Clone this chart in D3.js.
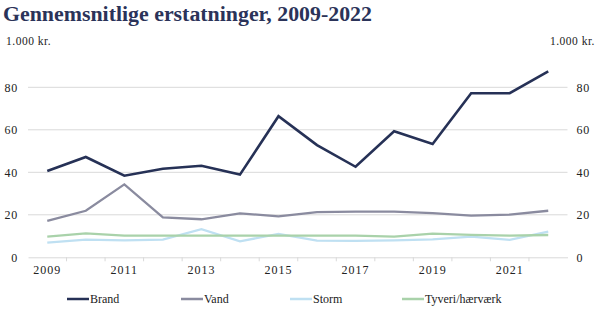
<!DOCTYPE html>
<html><head><meta charset="utf-8">
<script src="https://cdn.jsdelivr.net/npm/d3@7"></script>
<style>body{margin:0;background:#fff;} svg{display:block;}</style>
</head><body>
<svg id="c" width="603" height="327"></svg>
<script>
const years = [2009,2010,2011,2012,2013,2014,2015,2016,2017,2018,2019,2020,2021,2022];
const brand  = [40.6,47.2,38.4,41.7,43.1,38.9,66.4,52.8,42.6,59.3,53.3,77.2,77.2,87.5];
const vand   = [17.1,21.9,34.3,18.8,17.9,20.7,19.3,21.3,21.5,21.5,20.8,19.6,20.1,21.9];
const storm  = [6.9,8.3,8.0,8.3,13.2,7.5,11.0,7.8,7.7,8.0,8.4,9.7,8.2,12.1];
const tyveri = [9.7,11.3,10.2,10.2,10.2,10.2,10.2,10.2,10.2,9.7,11.1,10.6,10.2,10.5];
const yTicks = [0,20,40,60,80];
const xLabels = [2009,2011,2013,2015,2017,2019,2021];
const seriesNames = ["Brand","Vand","Storm","Tyveri/hærværk"];
const seriesColors = ["#263156","#8a8b9f","#bfe0f2","#a9d2aa"];
const seriesWidths = [2.6,2.3,2.3,2.3];
const seriesData = [brand,vand,storm,tyveri];
const titleText = "Gennemsnitlige erstatninger, 2009-2022";
const unitText = "1.000 kr.";

const FONT = "Liberation Serif";
const svg = d3.select("#c");
const L = 28, R = 567.5, B = 257.3;
const x = d3.scaleBand().domain(years).range([L, R]).padding(0);
const y = d3.scaleLinear().domain([0,80]).range([B, 87.3]);

// gridlines
svg.append("g").selectAll("line").data(yTicks.filter(d=>d>0)).join("line")
  .attr("x1", L).attr("x2", R).attr("y1", d=>y(d)).attr("y2", d=>y(d))
  .attr("stroke", "#d9d9d9").attr("stroke-width", 1);

// x axis
const xAxis = d3.axisBottom(x).tickSize(0).tickFormat(d => xLabels.includes(d) ? d : "");
const gx = svg.append("g").attr("transform", `translate(0,${B})`).call(xAxis);
gx.select(".domain").attr("stroke", "#d9d9d9");
gx.selectAll("text").attr("font-family",FONT).attr("font-size", 12)
  .attr("fill","#222").attr("letter-spacing", 1).attr("dy", "1.15em");
// tick marks at band boundaries
const bounds = years.slice(1).map(d => x(d));
svg.append("g").selectAll("line").data(bounds).join("line")
  .attr("x1", d=>d).attr("x2", d=>d).attr("y1", B).attr("y2", B+4)
  .attr("stroke", "#d9d9d9");

// y axes
const yl = svg.append("g").attr("transform", `translate(${L-10},0)`)
  .call(d3.axisLeft(y).tickValues(yTicks).tickSize(0).tickPadding(0));
const yr = svg.append("g").attr("transform", `translate(${R+9},0)`)
  .call(d3.axisRight(y).tickValues(yTicks).tickSize(0).tickPadding(0));
[yl, yr].forEach(g => {
  g.select(".domain").remove();
  g.selectAll("text").attr("font-family",FONT).attr("font-size", 12)
    .attr("letter-spacing", 0.8).attr("fill","#222");
});

// lines
const line = d3.line().x((d,i) => x(years[i]) + x.bandwidth()/2).y(d => y(d));
seriesData.forEach((s, k) => {
  svg.append("path").attr("class","series").datum(s).attr("d", line).attr("fill","none")
    .attr("stroke", seriesColors[k]).attr("stroke-width", seriesWidths[k])
    .attr("stroke-linejoin","miter");
});
svg.selectAll("path.series").filter((d,i)=>i===0).raise();

// title
const title = svg.append("text").attr("x", 3).attr("y", 21)
  .attr("font-family",FONT).attr("font-weight","bold")
  .attr("font-size", 20).attr("fill","#2b3359").text(titleText);
const tw = title.node().getComputedTextLength();
title.attr("font-size", 20 * 369 / tw);

// unit labels
svg.append("text").attr("x", 6).attr("y", 45).attr("font-family",FONT)
  .attr("font-size", 11.5).attr("letter-spacing", 0.5).attr("fill","#222").text(unitText);
svg.append("text").attr("x", 595).attr("y", 45).attr("text-anchor","end").attr("font-family",FONT)
  .attr("font-size", 11.5).attr("letter-spacing", 0.5).attr("fill","#222").text(unitText);

// legend
const legX = [67, 181, 290, 402];
seriesNames.forEach((n, k) => {
  const g = svg.append("g").attr("transform", `translate(${legX[k]},299)`);
  g.append("line").attr("x1",0).attr("x2",22).attr("y1",0).attr("y2",0)
    .attr("stroke", seriesColors[k]).attr("stroke-width", 2.5);
  g.append("text").attr("x", 23).attr("y", 4).attr("font-family",FONT)
    .attr("font-size", 12).attr("fill","#222").text(n);
});
</script>
</body></html>
